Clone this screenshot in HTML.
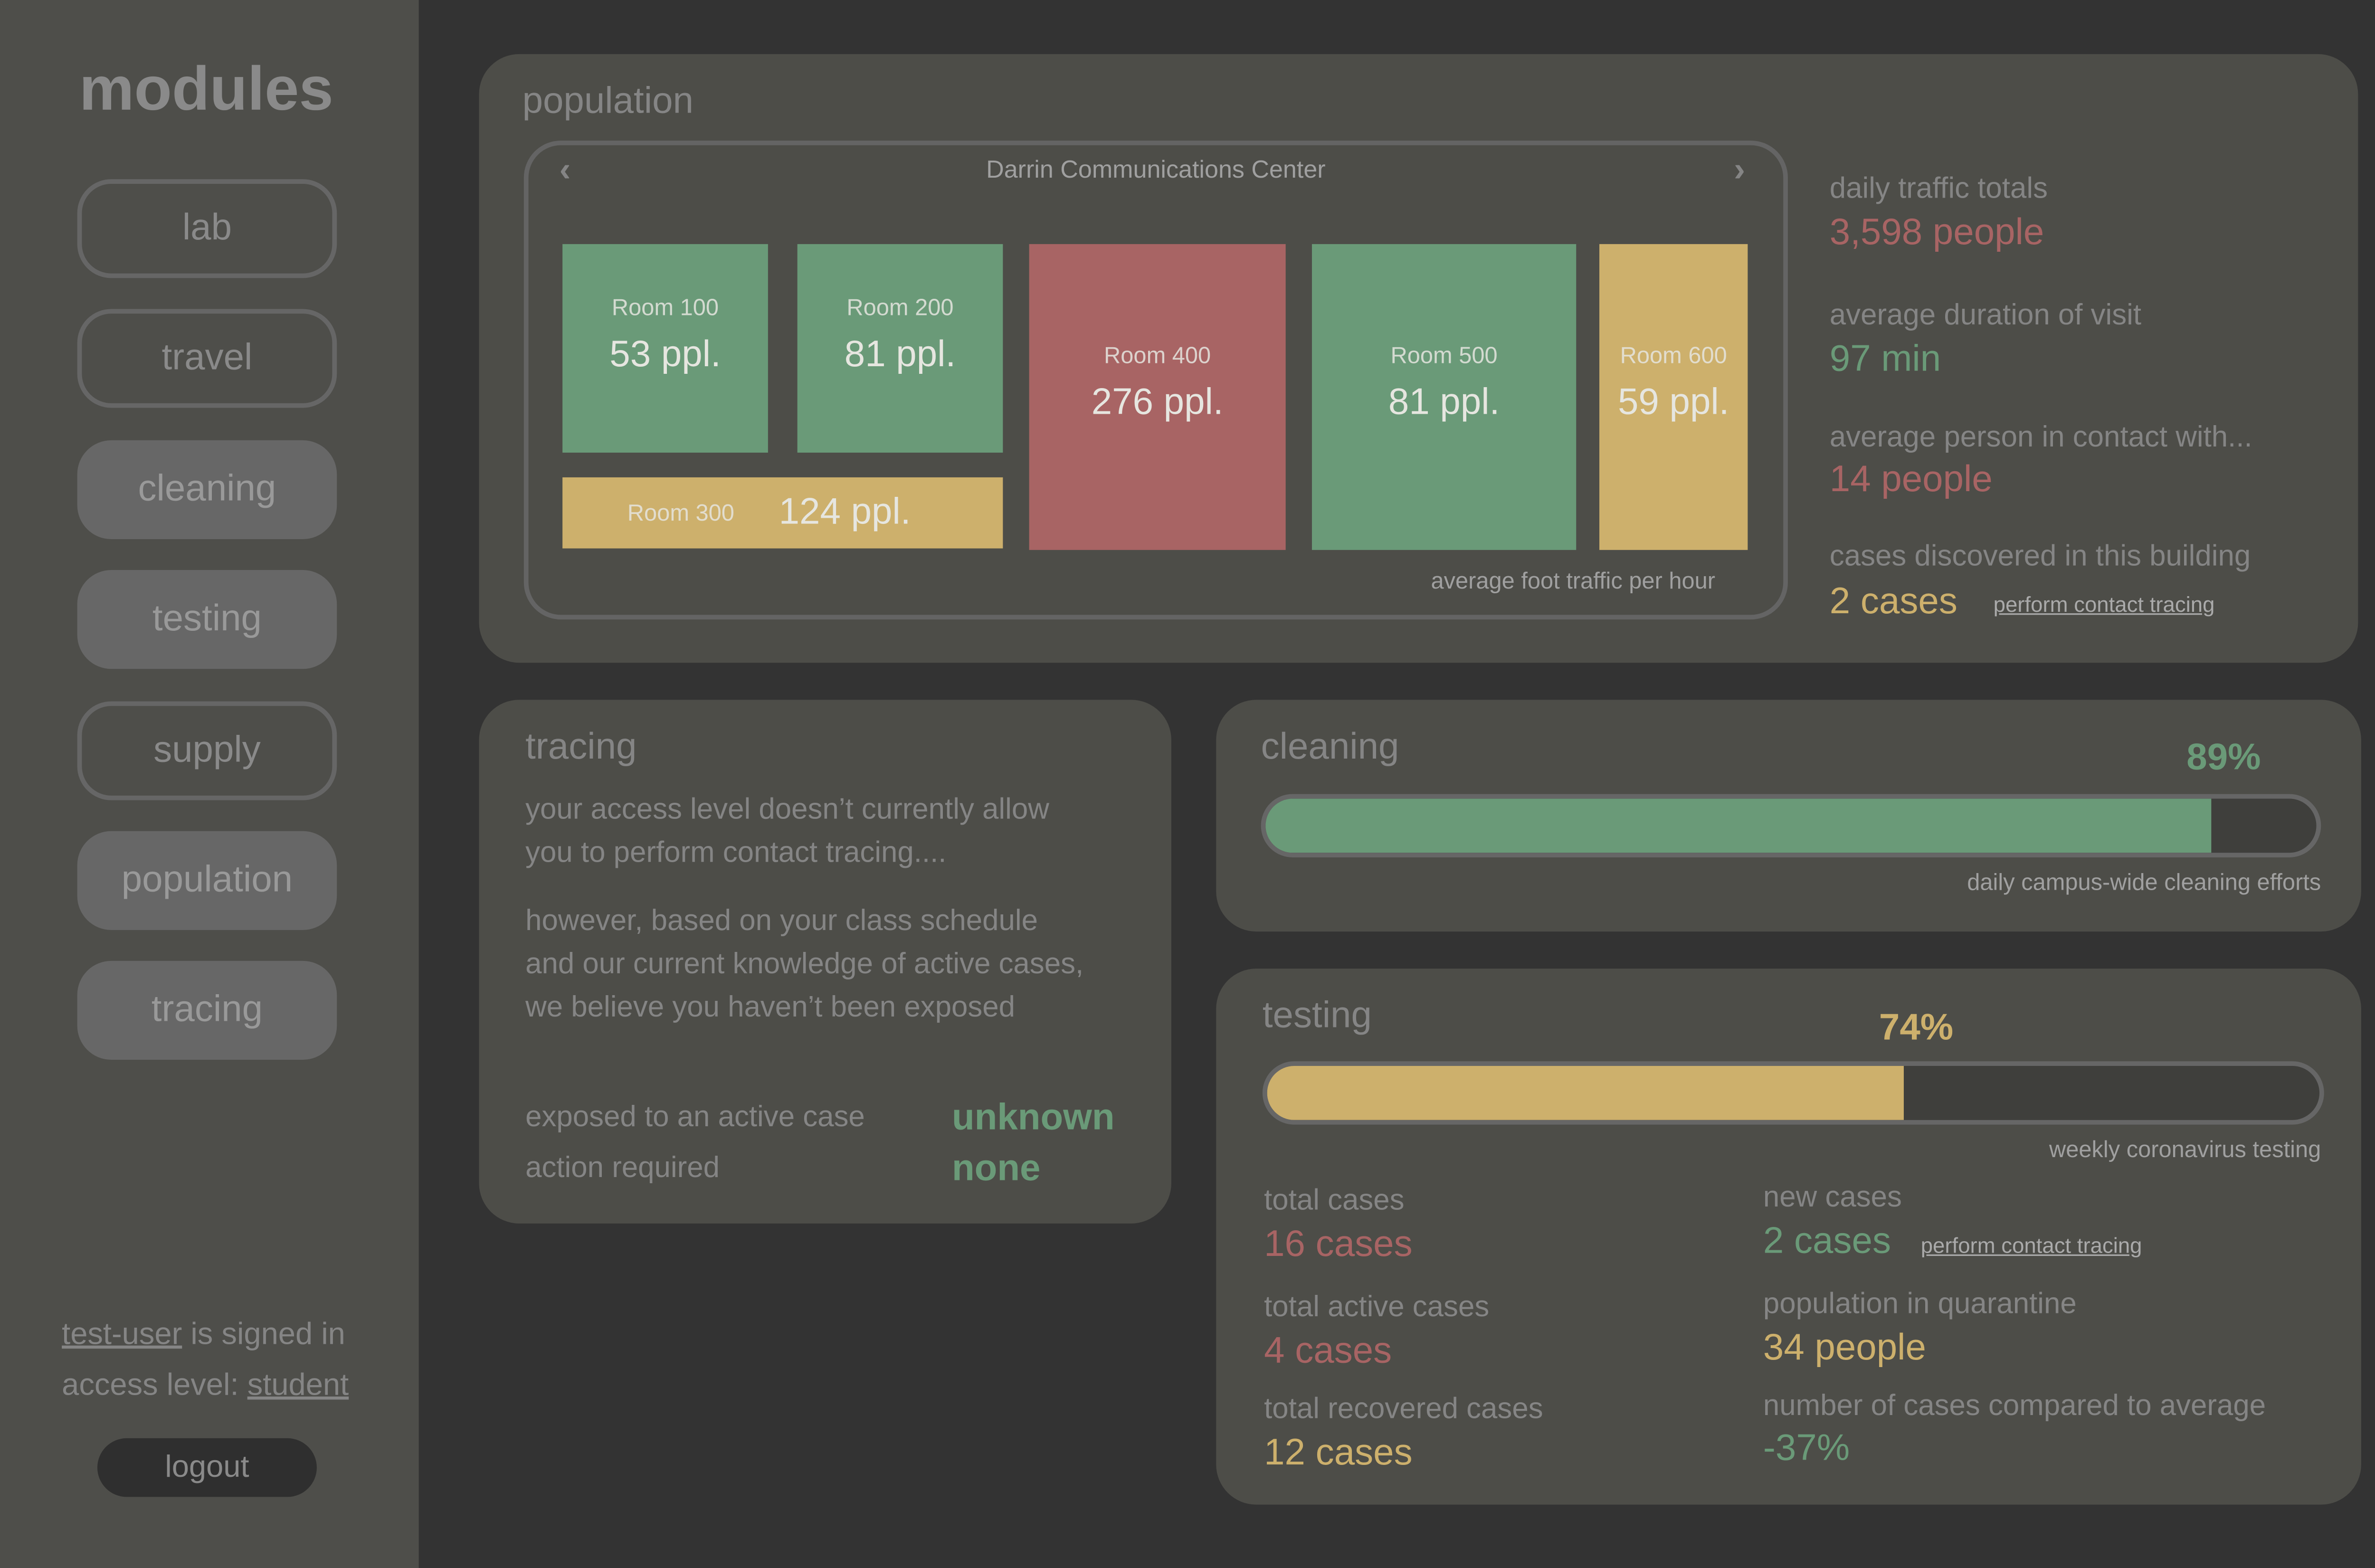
<!DOCTYPE html>
<html><head><meta charset="utf-8">
<style>
html,body{margin:0;padding:0;background:#333333;overflow:hidden}
#root{position:absolute;left:0;top:0;width:1568px;height:1015px;transform:scale(3.2532,3.2522);transform-origin:0 0;font-family:"Liberation Sans","DejaVu Sans",sans-serif;color:#858585}
.abs{position:absolute}
.side{left:0;top:0;width:271px;height:1015px;background:#4e4e4a}
.btn{position:absolute;left:50px;width:168px;height:64px;border-radius:22px;box-sizing:border-box;text-align:center;line-height:64px;font-size:24px;color:#8a8a8a}
.out{border:3px solid #666;line-height:58px}
.fill{background:#676767;color:#999}
.panel{position:absolute;background:#4d4d48;border-radius:26px}
.t{position:absolute;white-space:nowrap}
.room{position:absolute;text-align:center;color:#e6e6e0}
.room .n{font-size:15px;opacity:.85}
.room .v{font-size:24px}
.g{color:#6a9a78}.r{color:#a86464}.y{color:#cdb06c}
.bar{position:absolute;border:3px solid #666;border-radius:22px;box-sizing:border-box;overflow:hidden;background:#3f3f3c}
.bar div{height:100%}
u{text-decoration:underline}
</style></head><body>
<div id="root">
<div class="abs side">
 <div class="t" style="left:0;width:267px;text-align:center;top:36px;font-size:40px;font-weight:bold;color:#8a8a8a">modules</div>
 <div class="btn out" style="top:116px">lab</div>
 <div class="btn out" style="top:200px">travel</div>
 <div class="btn fill" style="top:285px">cleaning</div>
 <div class="btn fill" style="top:369px">testing</div>
 <div class="btn out" style="top:454px">supply</div>
 <div class="btn fill" style="top:538px">population</div>
 <div class="btn fill" style="top:622px">tracing</div>
 <div class="t" style="left:40px;top:853px;font-size:20px"><u>test-user</u> is signed in</div>
 <div class="t" style="left:40px;top:886px;font-size:20px">access level: <u>student</u></div>
 <div class="abs" style="left:63px;top:931px;width:142px;height:38px;border-radius:19px;background:#2f2f2f;text-align:center;line-height:38px;font-size:20px;color:#8a8a8a">logout</div>
</div>

<div class="panel" style="left:310px;top:35px;width:1216px;height:394px">
 <div class="t" style="left:28px;top:17px;font-size:24px">population</div>
 <div class="abs" style="left:29px;top:56px;width:818px;height:310px;border:3px solid #646464;border-radius:24px;box-sizing:border-box"></div>
 <div class="t" style="left:52px;top:62px;font-size:22px;font-weight:bold">‹</div>
 <div class="t" style="left:812px;top:62px;font-size:22px;font-weight:bold">›</div>
 <div class="t" style="left:29px;width:818px;text-align:center;top:67px;font-size:16px;color:#a0a0a0">Darrin Communications Center</div>
 <div id="rooms"></div>
 <div class="t" style="left:616px;top:333px;font-size:15px;color:#a0a0a0">average foot traffic per hour</div>
 <div class="t" style="left:874px;top:77px;font-size:19px">daily traffic totals</div>
 <div class="t r" style="left:874px;top:102px;font-size:24px">3,598 people</div>
 <div class="t" style="left:874px;top:159px;font-size:19px">average duration of visit</div>
 <div class="t g" style="left:874px;top:184px;font-size:24px">97 min</div>
 <div class="t" style="left:874px;top:238px;font-size:19px">average person in contact with...</div>
 <div class="t r" style="left:874px;top:262px;font-size:24px">14 people</div>
 <div class="t" style="left:874px;top:315px;font-size:19px">cases discovered in this building</div>
 <div class="t y" style="left:874px;top:341px;font-size:24px">2 cases</div>
 <div class="t" style="left:980px;top:348px;font-size:14px;color:#aaa;text-decoration:underline">perform contact tracing</div>
</div>

<div class="panel" style="left:310px;top:453px;width:448px;height:339px">
 <div class="t" style="left:30px;top:17px;font-size:24px">tracing</div>
 <div class="t" style="left:30px;top:58px;font-size:19px;line-height:28px">your access level doesn’t currently allow<br>you to perform contact tracing....</div>
 <div class="t" style="left:30px;top:130px;font-size:19px;line-height:28px">however, based on your class schedule<br>and our current knowledge of active cases,<br>we believe you haven’t been exposed</div>
 <div class="t" style="left:30px;top:260px;font-size:19px">exposed to an active case</div>
 <div class="t g" style="left:306px;top:257px;font-size:24px;font-weight:bold">unknown</div>
 <div class="t" style="left:30px;top:293px;font-size:19px">action required</div>
 <div class="t g" style="left:306px;top:290px;font-size:24px;font-weight:bold">none</div>
</div>

<div class="panel" style="left:787px;top:453px;width:741px;height:150px">
 <div class="t" style="left:29px;top:17px;font-size:24px">cleaning</div>
 <div class="t g" id="cleanPct" style="top:24px;font-size:24px;font-weight:bold"></div>
 <div class="bar" style="left:29px;top:61px;width:686px;height:41px"><div id="cleanFill" style="background:#6a9a78"></div></div>
 <div class="t" style="right:26px;top:110px;font-size:15px;color:#a0a0a0">daily campus-wide cleaning efforts</div>
</div>

<div class="panel" style="left:787px;top:627px;width:741px;height:347px">
 <div class="t" style="left:30px;top:17px;font-size:24px">testing</div>
 <div class="t y" id="testPct" style="top:25px;font-size:24px;font-weight:bold"></div>
 <div class="bar" style="left:30px;top:60px;width:687px;height:41px"><div id="testFill" style="background:#cdb06c"></div></div>
 <div class="t" style="right:26px;top:109px;font-size:15px;color:#a0a0a0">weekly coronavirus testing</div>
 <div class="t" style="left:31px;top:140px;font-size:19px">total cases</div>
 <div class="t r" style="left:31px;top:165px;font-size:24px">16 cases</div>
 <div class="t" style="left:31px;top:209px;font-size:19px">total active cases</div>
 <div class="t r" style="left:31px;top:234px;font-size:24px">4 cases</div>
 <div class="t" style="left:31px;top:275px;font-size:19px">total recovered cases</div>
 <div class="t y" style="left:31px;top:300px;font-size:24px">12 cases</div>
 <div class="t" style="left:354px;top:138px;font-size:19px">new cases</div>
 <div class="t g" style="left:354px;top:163px;font-size:24px">2 cases</div>
 <div class="t" style="left:456px;top:171px;font-size:14px;color:#aaa;text-decoration:underline">perform contact tracing</div>
 <div class="t" style="left:354px;top:207px;font-size:19px">population in quarantine</div>
 <div class="t y" style="left:354px;top:232px;font-size:24px">34 people</div>
 <div class="t" style="left:354px;top:273px;font-size:19px">number of cases compared to average</div>
 <div class="t g" style="left:354px;top:297px;font-size:24px">-37%</div>
</div>
</div>
<script>
const progressNames=["cleaning","testing"];
const progressLabels=[89,74];
const progressFill=[90,60.5];
const roomNames=["Room 100","Room 200","Room 300","Room 400","Room 500","Room 600"];
const roomPeople=[53,81,124,276,81,59];
const roomStatus=["g","g","y","r","g","y"];

const colors={g:"#6a9a78",r:"#a86464",y:"#cdb06c"};
[["cleanFill","cleanPct",686,29],["testFill","testPct",687,30]].forEach((c,i)=>{
  const inner=c[2]-6, w=inner*progressFill[i]/100;
  document.getElementById(c[0]).style.width=w+"px";
  const p=document.getElementById(c[1]);
  p.textContent=progressLabels[i]+"%";
  p.style.left=(c[3]+3+w-16)+"px";
});
const slots=[[54,123,133,135,0],[206,123,133,135,0],[54,274,285,46,1],[356,123,166,198,0],[539,123,171,198,0],[725,123,96,198,0]];
const rc=document.getElementById('rooms');
roomNames.forEach((nm,i)=>{
  const s=slots[i];
  const d=document.createElement('div');
  d.className='room';
  
  
  d.style.cssText=`left:${s[0]}px;top:${s[1]}px;width:${s[2]}px;height:${s[3]}px;background:${colors[roomStatus[i]]}`;
  if(s[4]){
    d.innerHTML=`<span class="n" style="position:absolute;left:42px;top:15px">${nm}</span><span class="v" style="position:absolute;left:140px;top:9px">${roomPeople[i]} ppl.</span>`;
  } else {
    d.innerHTML=`<div class="n" style="margin-top:${s[3]/2-35}px">${nm}</div><div class="v" style="margin-top:8px">${roomPeople[i]} ppl.</div>`;
  }
  rc.appendChild(d);
});
</script>
</body></html>
